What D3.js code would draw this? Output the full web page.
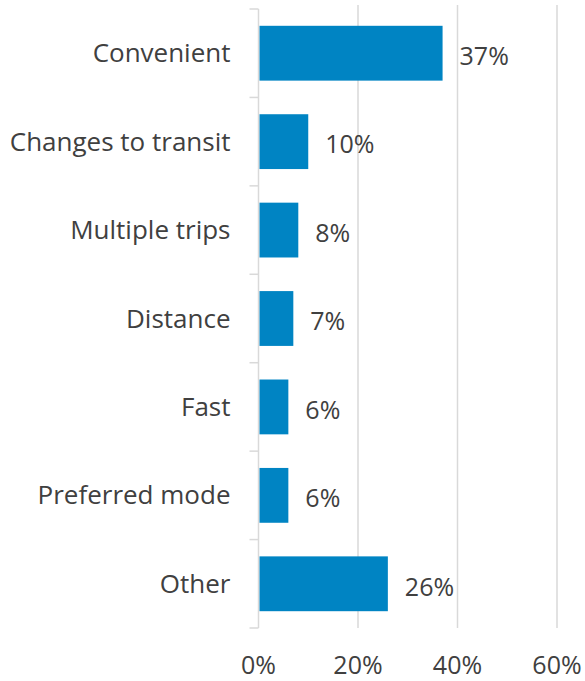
<!DOCTYPE html>
<html>
<head>
<meta charset="utf-8">
<script src="https://cdn.jsdelivr.net/npm/d3@7"></script>
<style>
  body { margin: 0; background: #fff; }
  text { font-family: "Open Sans", Lato, sans-serif; fill: #404040; }
</style>
</head>
<body>
<div class="chart"></div>
<script>
// Data
var categories = ["Convenient", "Changes to transit", "Multiple trips", "Distance", "Fast", "Preferred mode", "Other"];
var shares = [37, 10, 8, 7, 6, 6, 26];
var xTicks = [0, 20, 40, 60];

var svgWidth = 585;
var svgHeight = 681;

var margin = { top: 9, right: 28, bottom: 53, left: 258.5 };
var width = svgWidth - margin.left - margin.right;
var height = svgHeight - margin.top - margin.bottom;

var svg = d3.select(".chart")
  .append("svg")
  .attr("width", svgWidth)
  .attr("height", svgHeight);

var chartGroup = svg.append("g")
  .attr("transform", `translate(${margin.left}, ${margin.top})`);

// Scales
var xScale = d3.scaleLinear()
  .domain([0, 60])
  .range([0, width]);

var yScale = d3.scaleBand()
  .domain(categories)
  .range([0, height])
  .paddingInner(0.38)
  .paddingOuter(0.19);

var yBounds = d3.scaleLinear()
  .domain([0, categories.length])
  .range([0, height]);

// Gridlines
chartGroup.selectAll(".grid")
  .data(xTicks.slice(1))
  .enter()
  .append("line")
  .attr("x1", d => xScale(d))
  .attr("x2", d => xScale(d))
  .attr("y1", -4)
  .attr("y2", height)
  .attr("stroke", "#d9d9d9")
  .attr("stroke-width", 1.5);

// Left axis line + category boundary ticks
chartGroup.append("line")
  .attr("x1", 0).attr("x2", 0)
  .attr("y1", 0).attr("y2", height)
  .attr("stroke", "#d9d9d9")
  .attr("stroke-width", 1.5);

chartGroup.selectAll(".btick")
  .data(d3.range(categories.length + 1))
  .enter()
  .append("line")
  .attr("x1", -9).attr("x2", 0)
  .attr("y1", d => yBounds(d))
  .attr("y2", d => yBounds(d))
  .attr("stroke", "#d9d9d9")
  .attr("stroke-width", 1.5);

// Bars
chartGroup.selectAll(".bar")
  .data(shares)
  .enter()
  .append("rect")
  .attr("x", xScale(0) + 1)
  .attr("y", (d, i) => yScale(categories[i]))
  .attr("width", d => xScale(d) - xScale(0) - 1)
  .attr("height", yScale.bandwidth())
  .attr("fill", "#0084c3");

// Value labels
chartGroup.selectAll(".val")
  .data(shares)
  .enter()
  .append("text")
  .attr("x", d => xScale(d) + 17)
  .attr("y", (d, i) => yScale(categories[i]) + yScale.bandwidth() / 2 + 3)
  .attr("dy", "0.35em")
  .attr("font-size", "25px")
  .text(d => d + "%");

// Category labels
chartGroup.selectAll(".cat")
  .data(categories)
  .enter()
  .append("text")
  .attr("x", -28)
  .attr("y", d => yScale(d) + yScale.bandwidth() / 2)
  .attr("dy", "0.35em")
  .attr("text-anchor", "end")
  .attr("font-size", "26px")
  .text(d => d);

// X tick labels
chartGroup.selectAll(".xlab")
  .data(xTicks)
  .enter()
  .append("text")
  .attr("x", d => xScale(d))
  .attr("y", height + 37)
  .attr("dy", "0.35em")
  .attr("text-anchor", "middle")
  .attr("font-size", "25px")
  .text(d => d + "%");
</script>
</body>
</html>
